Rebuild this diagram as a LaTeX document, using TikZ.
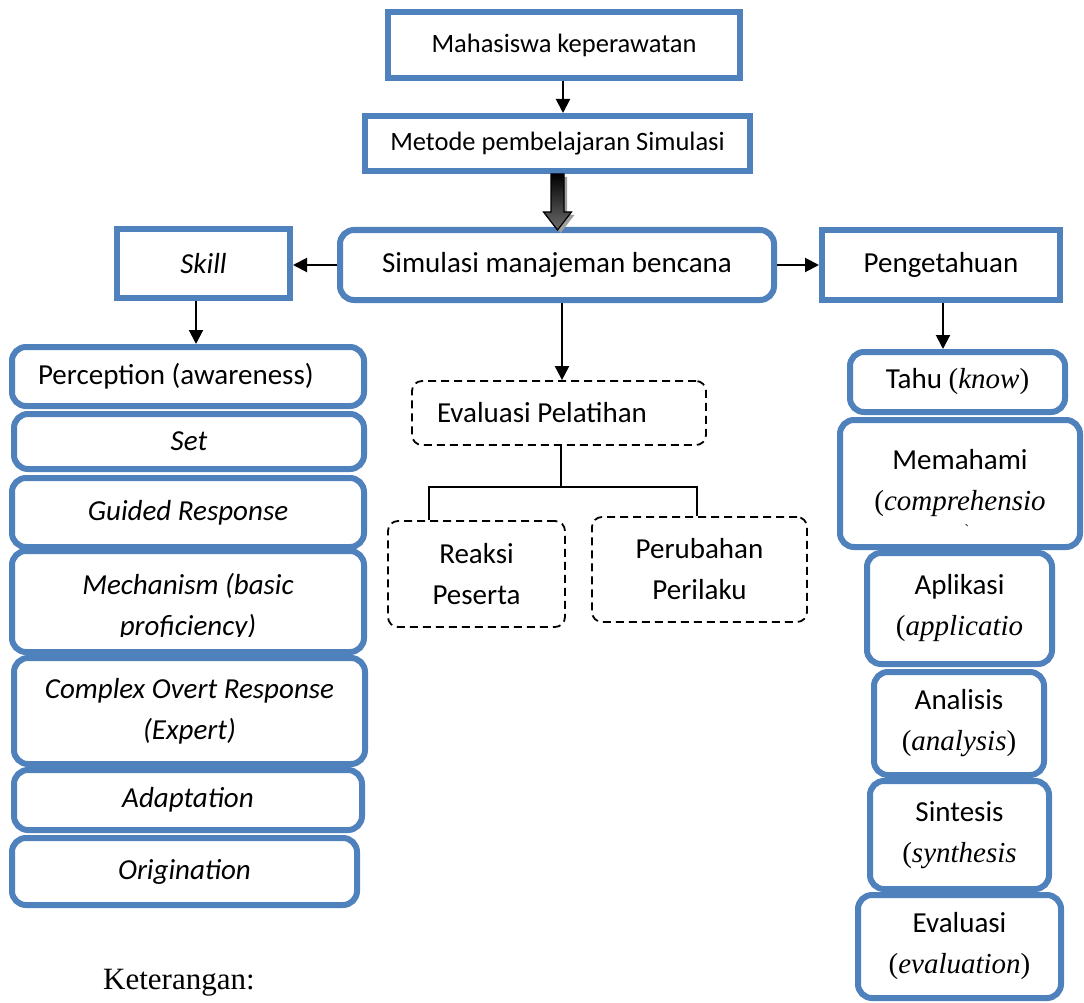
\documentclass[tikz,border=0pt]{standalone}
\usepackage{fontspec}
\setmainfont{Carlito}
\newfontfamily\tnr{Liberation Serif}
\usetikzlibrary{arrows.meta,calc}
\definecolor{bbord}{RGB}{79,129,189}
\begin{document}
\begin{tikzpicture}[x=1pt,y=-1pt,
  every node/.style={font=\fontsize{29}{41}\selectfont, inner sep=0pt},
  sqbox/.style={draw=bbord, line width=6pt, fill=white, align=center},
  rbox/.style={sqbox, rounded corners=14pt},
  dbox/.style={draw=black, line width=1.8pt, dash pattern=on 8pt off 5pt, rounded corners=10pt, fill=white, align=center},
  arr/.style={line width=2pt, -{Triangle[length=14pt,width=14pt]}},
  tline/.style={line width=1.5pt},
  small/.style={font=\fontsize{26.5}{36}\selectfont},
  ital/.style={font=\fontsize{29}{41}\selectfont\itshape},
]
\useasboundingbox[fill=white] (0,0) rectangle (1084,1003);

% top chain
\node[sqbox, small, minimum width=352, minimum height=66] (mah) at (564,45) {Mahasiswa keperawatan};
\node[sqbox, small, minimum width=385, minimum height=55] (met) at (557.5,143.5) {Metode pembelajaran Simulasi};
\node[rbox, minimum width=434, minimum height=70] (sim) at (557,265) {Simulasi manajeman bencana};
\node[sqbox, ital, minimum width=173, minimum height=69] (skill) at (203.5,263.5) {Skill};
\node[sqbox, minimum width=238, minimum height=70] (peng) at (941,265) {Pengetahuan};

\draw[arr] (mah.south -| 563,0) -- (met.north -| 563,0);
% block arrow with shadow
\path[fill=gray!75] ([shift={(3,3)}]met.south) ++(-6.5,0) -- ++(13,0) -- ++(0,38) -- ++(7.5,0) -- ++(-14,18) -- ++(-14,-18) -- ++(7.5,0) -- cycle;
\shade[top color=black, bottom color=gray!85!black, draw=black, line width=1.2pt] (met.south) ++(-6.5,0) -- ++(13,0) -- ++(0,38) -- ++(7.5,0) -- ++(-14,18) -- ++(-14,-18) -- ++(7.5,0) -- cycle;

\draw[arr] (sim.west) -- (sim.west -| skill.east);
\draw[arr] (sim.east) -- (sim.east -| peng.west);

% left column
\node[rbox, text width=300, align=flush left, inner xsep=26, minimum width=352, minimum height=59] (perc) at (188,376.5) {Perception (awareness)};
\node[rbox, ital, minimum width=350, minimum height=55] (set) at (189,441.5) {Set};
\node[rbox, ital, minimum width=352, minimum height=69] (guided) at (188,512.5) {Guided Response};
\node[rbox, minimum width=352, minimum height=101] (mech) at (188,601.5) {};
\begin{scope}
\clip (0,548) rectangle (1084,636);
\node[ital, align=center] (mecht) at (188,606.5) {Mechanism (basic\\proficiency)};
\end{scope}
\node[rbox, ital, minimum width=351, minimum height=106] (complex) at (189.5,711) {Complex Overt Response\\(Expert)};
\node[rbox, ital, minimum width=348, minimum height=60] (adapt) at (188,800) {Adaptation};
\node[rbox, ital, minimum width=345, minimum height=67] (orig) at (184.5,871.5) {Origination};
\draw[arr] ([xshift=-7.5pt]skill.south) -- ([xshift=-7.5pt]skill.south |- perc.north);

% middle
\node[dbox, text width=244, align=flush left, inner xsep=25, minimum width=294, minimum height=64] (evalp) at (559,413) {Evaluasi Pelatihan};
\node[dbox, minimum width=177, minimum height=106] (reaksi) at (476.5,574) {Reaksi\\Peserta};
\node[dbox, minimum width=215, minimum height=105] (perub) at (699.5,569.5) {Perubahan\\Perilaku};
\draw[arr] ([xshift=5pt]sim.south) -- ([xshift=5pt]sim.south |- evalp.north);
\coordinate (jl) at (429,487);
\coordinate (jr) at (697,487);
\draw[tline] ([xshift=2pt]evalp.south) -- ([xshift=2pt]evalp.south |- jl);
\draw[tline] (jl |- reaksi.north) -- (jl) -- (jr) -- (jr |- perub.north);

% right column
\node[rbox, minimum width=215, minimum height=60] (tahu) at (957.5,382) {\raisebox{-5pt}{Tahu {\tnr(\textit{know})}}};
\node[rbox, minimum width=240, minimum height=127] (mem) at (960,483.5) {Memahami\\{\tnr(\textit{comprehensio}}};
\node[font=\tnr\fontsize{14}{14}\selectfont] (tick) at (967,530) {`};
\node[rbox, minimum width=185, minimum height=111] (apl) at (959.5,608.5) {Aplikasi\\{\tnr(\textit{applicatio}}};
\node[rbox, minimum width=170, minimum height=103] (ana) at (959,723.5) {Analisis\\{\tnr(\textit{analysis})}};
\node[rbox, minimum width=179, minimum height=108] (sin) at (959.5,835) {Sintesis\\{\tnr(\textit{synthesis}}};
\node[rbox, minimum width=203, minimum height=103] (eva) at (959.5,946.5) {Evaluasi\\{\tnr(\textit{evaluation})}};
\draw[arr] ([xshift=2pt]peng.south) -- ([xshift=2pt]peng.south |- tahu.north);

% caption
\node[anchor=base west, font=\tnr\fontsize{31}{36}\selectfont] (ket) at (103,989) {Keterangan:};
\end{tikzpicture}
\end{document}
